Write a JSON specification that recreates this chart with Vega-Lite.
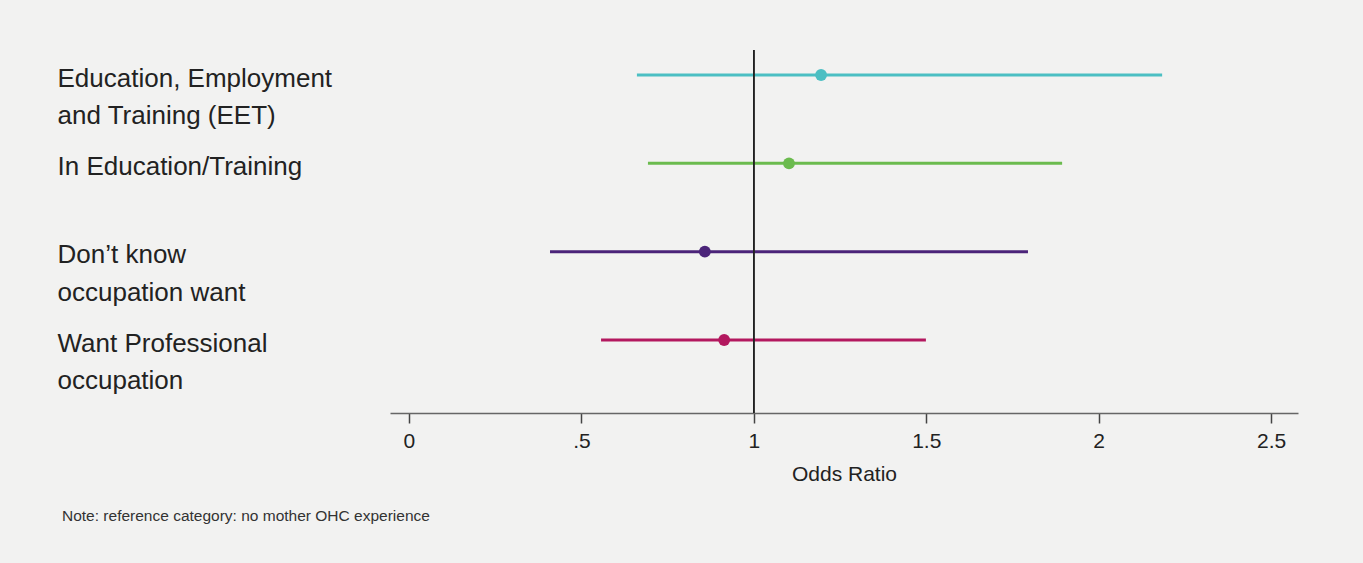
{
  "$schema": "https://vega.github.io/schema/vega-lite/v6.json",
  "width": 908,
  "height": 363,
  "autosize": {"type": "none"},
  "padding": {"left": 390, "top": 50, "right": 65, "bottom": 150},
  "background": "#f2f2f1",
  "config": {
    "view": {"stroke": null},
    "font": "Liberation Sans"
  },
  "title": {
    "text": "Note: reference category: no mother OHC experience",
    "orient": "bottom",
    "anchor": "start",
    "frame": "bounds",
    "dx": 5,
    "offset": 25,
    "fontSize": 15.5,
    "fontWeight": "normal",
    "color": "#333333",
    "font": "Liberation Sans"
  },
  "data": {
    "values": [
      {"outcome": "Education, Employment\nand Training (EET)", "or": 1.195, "lo": 0.661, "hi": 2.184},
      {"outcome": "In Education/Training", "or": 1.102, "lo": 0.693, "hi": 1.894},
      {"outcome": "Don’t know\noccupation want", "or": 0.858, "lo": 0.409, "hi": 1.795},
      {"outcome": "Want Professional\noccupation", "or": 0.914, "lo": 0.557, "hi": 1.499}
    ]
  },
  "layer": [
    {
      "mark": {"type": "rule", "strokeWidth": 3},
      "encoding": {
        "y": {
          "field": "outcome",
          "type": "nominal",
          "sort": null,
          "scale": {"type": "point", "range": [25, 290], "padding": 0},
          "axis": {
            "title": null,
            "domain": false,
            "ticks": false,
            "tickSize": 0,
            "labelPadding": 333,
            "labelAlign": "left",
            "labelBaseline": "alphabetic",
            "labelOffset": 11,
            "labelFontSize": 26,
            "labelLineHeight": 37.5,
            "labelColor": "#222222",
            "labelLimit": 400,
            "labelExpr": "split(datum.label, '\\n')"
          }
        },
        "color": {
          "field": "outcome",
          "type": "nominal",
          "sort": null,
          "legend": null,
          "scale": {
            "domain": [
              "Education, Employment\nand Training (EET)",
              "In Education/Training",
              "Don’t know\noccupation want",
              "Want Professional\noccupation"
            ],
            "range": ["#4cbfc3", "#6bbb4e", "#4b2479", "#b3185f"]
          }
        },
        "x": {
          "field": "lo",
          "type": "quantitative",
          "scale": {"domain": [-0.055, 2.578], "nice": false, "zero": false},
          "axis": {
            "title": "Odds Ratio",
            "values": [0, 0.5, 1, 1.5, 2, 2.5],
            "format": "~g",
            "labelExpr": "datum.value == 0.5 ? '.5' : datum.label",
            "grid": false,
            "domainColor": "#666666",
            "domainWidth": 1.5,
            "tickColor": "#444444",
            "tickWidth": 1.5,
            "tickSize": 10,
            "labelPadding": 7,
            "labelFontSize": 21,
            "labelColor": "#222222",
            "titleFontSize": 21,
            "titleFontWeight": "normal",
            "titleColor": "#222222",
            "titlePadding": 12
          }
        },
        "x2": {"field": "hi"}
      }
    },
    {
      "mark": {"type": "rule", "color": "#222222", "strokeWidth": 1.2},
      "encoding": {"x": {"datum": 1}}
    },
    {
      "mark": {"type": "circle", "size": 140, "opacity": 1},
      "encoding": {
        "y": {"field": "outcome", "type": "nominal", "sort": null},
        "color": {"field": "outcome", "type": "nominal", "sort": null, "legend": null},
        "x": {"field": "or", "type": "quantitative"}
      }
    }
  ]
}
